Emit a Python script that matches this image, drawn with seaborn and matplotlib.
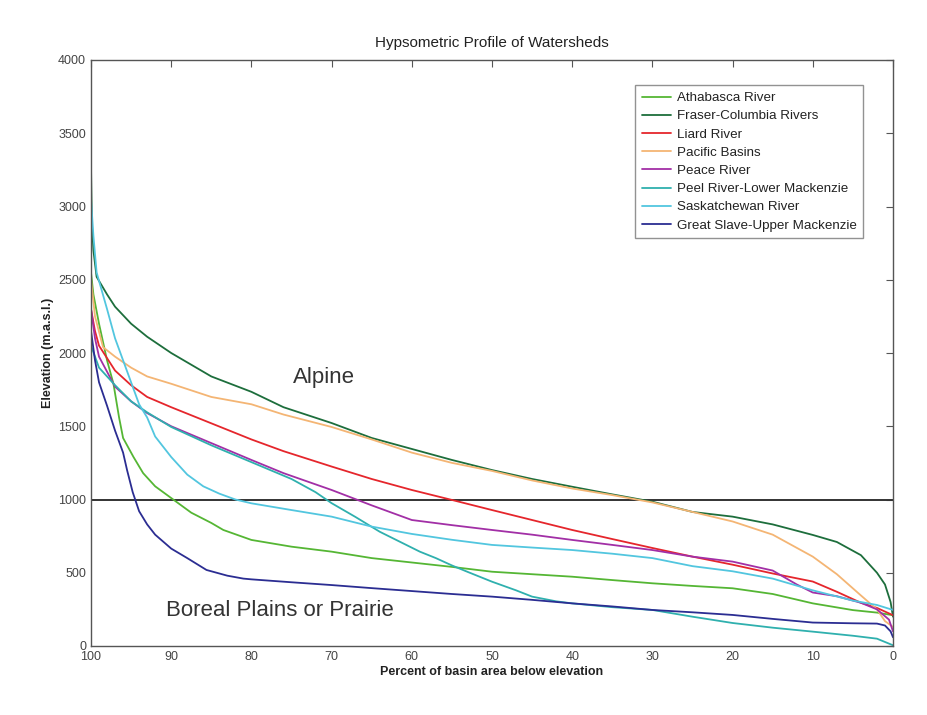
import numpy as np
import pandas as pd
import matplotlib
matplotlib.use("Agg")
import matplotlib.pyplot as plt
import seaborn as sns

rivers = ["Athabasca River", "Fraser-Columbia Rivers", "Liard River", "Pacific Basins",
          "Peace River", "Peel River-Lower Mackenzie", "Saskatchewan River",
          "Great Slave-Upper Mackenzie"]
colors = ["#55b634", "#1d6e3c", "#e5262c", "#f4b574", "#a22fa6", "#2fb0ae", "#52c6df", "#2b2d92"]

athabasca_pct = [100, 99.7, 99, 98, 97.2, 96.5, 96, 94.7, 93.5, 92, 90, 87.5, 85, 83.5, 80, 75, 70, 65, 60, 55, 50, 45, 40, 35, 30, 25, 20, 15, 10, 5, 2, 0]
athabasca_elev = [2550, 2400, 2200, 1950, 1790, 1560, 1420, 1290, 1180, 1090, 1010, 910, 840, 792, 724, 678, 644, 600, 570, 540, 507, 490, 473, 450, 428, 410, 394, 355, 291, 245, 228, 210]

fraser_pct = [100, 99.9, 99.7, 99.3, 98, 97, 95, 93, 90, 85, 80, 76, 70, 65, 60, 55, 50, 45, 40, 35, 30, 25, 20, 15, 10, 7, 4, 2, 1, 0.3, 0]
fraser_elev = [3280, 2900, 2700, 2520, 2400, 2316, 2200, 2111, 2000, 1840, 1735, 1630, 1522, 1420, 1345, 1270, 1201, 1140, 1087, 1035, 985, 915, 883, 830, 758, 710, 620, 500, 420, 300, 200]

liard_pct = [100, 99.5, 99, 97, 95, 93, 90, 85, 80, 76, 70, 65, 60, 55, 50, 45, 40, 35, 30, 25, 20, 15, 10, 7, 4, 2, 0]
liard_elev = [2300, 2150, 2050, 1880, 1780, 1700, 1630, 1520, 1410, 1330, 1225, 1140, 1065, 997, 928, 860, 792, 730, 669, 610, 555, 495, 440, 370, 295, 260, 210]

pacific_pct = [100, 99.5, 98.5, 97, 95, 93, 90, 85, 80, 76, 70, 65, 60, 55, 50, 45, 40, 35, 30, 25, 20, 15, 10, 7, 4, 2, 1, 0]
pacific_elev = [2500, 2250, 2040, 1975, 1900, 1840, 1790, 1700, 1650, 1580, 1495, 1410, 1320, 1250, 1195, 1130, 1075, 1030, 980, 915, 850, 760, 610, 490, 345, 250, 170, 130]

peace_pct = [100, 99.5, 99, 97, 95, 93, 90, 85, 80, 76, 70, 65, 60, 55, 50, 45, 40, 35, 30, 25, 20, 15, 12, 10, 7, 4, 2, 0.5, 0]
peace_elev = [2300, 2100, 1975, 1770, 1670, 1590, 1500, 1385, 1270, 1180, 1065, 960, 860, 825, 792, 760, 724, 690, 655, 610, 576, 515, 420, 365, 340, 295, 250, 180, 100]

peel_pct = [100, 99, 97, 95, 93, 90, 85, 80, 75, 72, 70, 67, 64, 61.5, 59, 57, 55, 53, 50, 47, 45, 42, 40, 35, 30, 25, 20, 15, 10, 5, 2, 0]
peel_elev = [2050, 1900, 1780, 1670, 1595, 1495, 1370, 1255, 1140, 1050, 975, 880, 780, 712, 644, 600, 550, 505, 439, 380, 337, 305, 291, 265, 246, 200, 157, 125, 98, 70, 50, 5]

sask_pct = [100, 99.7, 99.3, 98, 97, 96, 95, 94, 93, 92, 90, 88, 86, 84, 82, 80, 75, 70, 65, 60, 55, 50, 45, 40, 35, 30, 25, 20, 15, 10, 5, 2, 0]
sask_elev = [3050, 2800, 2550, 2300, 2100, 1950, 1800, 1650, 1560, 1430, 1290, 1170, 1090, 1040, 1000, 974, 928, 883, 815, 765, 725, 690, 672, 655, 630, 600, 545, 510, 460, 380, 310, 280, 246]

slave_pct = [100, 99.5, 99, 98, 97, 96, 95.5, 94.8, 94, 93, 92, 90, 88, 85.6, 83, 81, 80, 75, 70, 65, 60, 55, 50, 45, 40, 35, 30, 25, 20, 15, 10, 5, 2, 1, 0.3, 0]
slave_elev = [2150, 1950, 1800, 1640, 1470, 1320, 1200, 1050, 920, 830, 760, 665, 600, 519, 480, 460, 455, 435, 416, 395, 375, 355, 337, 315, 291, 270, 246, 230, 212, 185, 160, 155, 153, 140, 100, 60]

pcts = [athabasca_pct, fraser_pct, liard_pct, pacific_pct, peace_pct, peel_pct, sask_pct, slave_pct]
elevs = [athabasca_elev, fraser_elev, liard_elev, pacific_elev, peace_elev, peel_elev, sask_elev, slave_elev]

frames = []
for name, p, e in zip(rivers, pcts, elevs):
    frames.append(pd.DataFrame({"pct": p, "elev": e, "river": name}))
df = pd.concat(frames, ignore_index=True)

threshold = 1000
xticks = [100, 90, 80, 70, 60, 50, 40, 30, 20, 10, 0]
yticks = [0, 500, 1000, 1500, 2000, 2500, 3000, 3500, 4000]

sns.set_style("white")
plt.rcParams["font.family"] = ["Liberation Sans", "DejaVu Sans"]

fig = plt.figure(figsize=(9.27, 7.15), dpi=100)
ax = fig.add_axes([91/927, 1-646/715, (893-91)/927, (646-60)/715])

sns.lineplot(data=df, x="pct", y="elev", hue="river", hue_order=rivers,
             palette=dict(zip(rivers, colors)), estimator=None, sort=True,
             linewidth=1.3, ax=ax)

ax.axhline(threshold, color="#333333", linewidth=1.4, zorder=1)

ax.set_xlim(100, 0)
ax.set_ylim(0, 4000)
ax.set_xticks(xticks)
ax.set_yticks(yticks)
ax.tick_params(direction="in", top=True, right=True, length=5, width=0.8,
               colors="#555555", labelsize=9, labelcolor="#444444")
for s in ax.spines.values():
    s.set_color("#555555")
    s.set_linewidth(1.0)

ax.set_title("Hypsometric Profile of Watersheds", fontsize=11, color="#222222", pad=9)
ax.set_xlabel("Percent of basin area below elevation", fontsize=9, fontweight="bold",
              color="#222222", labelpad=2)
ax.set_ylabel("Elevation (m.a.s.l.)", fontsize=9, fontweight="bold", color="#222222", labelpad=3)

ax.text(71.0, 1830, "Alpine", fontsize=16, color="#333333", ha="center", va="center")
ax.text(76.4, 240, "Boreal Plains or Prairie", fontsize=16, color="#333333", ha="center", va="center")

leg = ax.legend(loc="upper right", bbox_to_anchor=(0.963, 0.957), borderaxespad=0,
                fontsize=9.6, frameon=True, fancybox=False, edgecolor="#777777",
                handlelength=2.2, labelspacing=0.44, borderpad=0.5, handletextpad=0.4)
leg.get_frame().set_linewidth(1.0)
for t in leg.get_texts():
    t.set_color("#222222")

fig.savefig("out.png", dpi=100, facecolor="white")
